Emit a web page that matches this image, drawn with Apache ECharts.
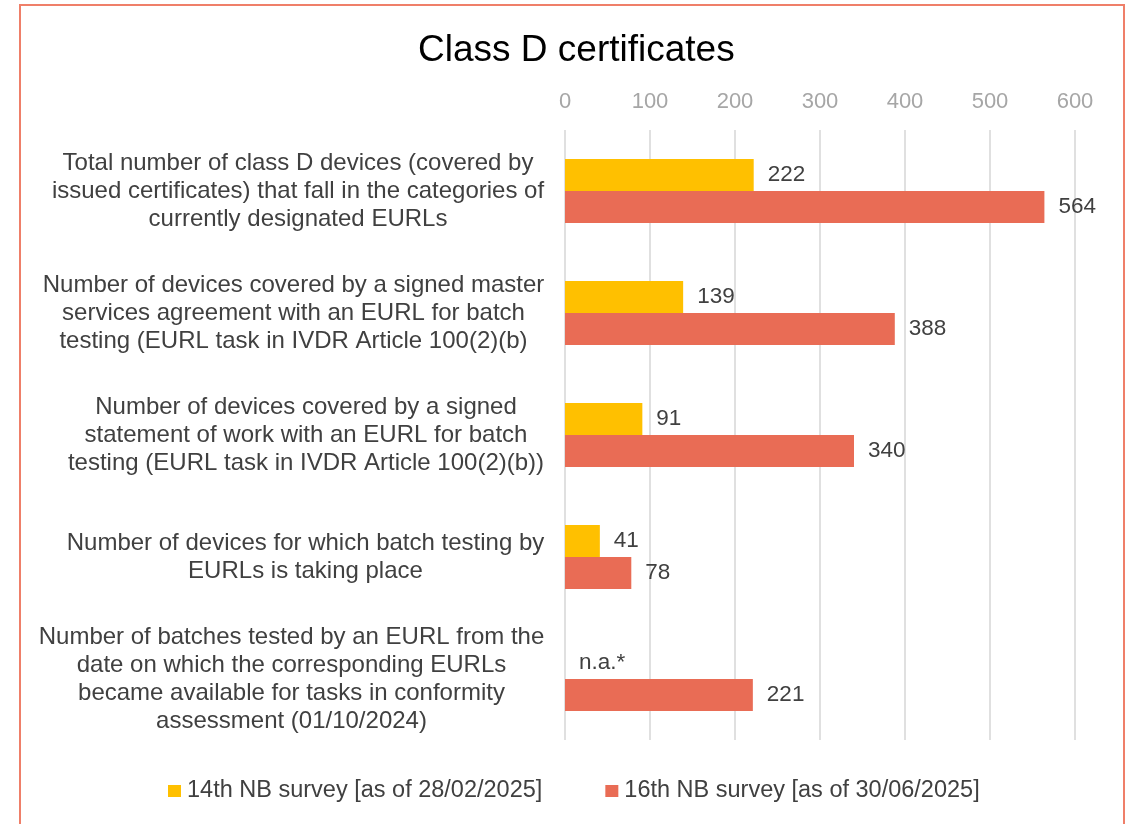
<!DOCTYPE html>
<html>
<head>
<meta charset="utf-8">
<script src="https://cdn.jsdelivr.net/npm/echarts@6/dist/echarts.min.js"></script>
<style>
  html, body { margin: 0; padding: 0; background: #fff; }
  #chart { width: 1130px; height: 824px; }
</style>
</head>
<body>
<div id="chart"></div>
<script>
const categories = [
  'Total number of class D devices (covered by\nissued certificates) that fall in the categories of\ncurrently designated EURLs',
  'Number of devices covered by a signed master\nservices agreement with an EURL for batch\ntesting (EURL task in IVDR Article 100(2)(b)',
  'Number of devices covered by a signed\nstatement of work with an EURL for batch\ntesting (EURL task in IVDR Article 100(2)(b))',
  'Number of devices for which batch testing by\nEURLs is taking place',
  'Number of batches tested by an EURL from the\ndate on which the corresponding EURLs\nbecame available for tasks in conformity\nassessment (01/10/2024)'
]
const survey14 = [222, 139, 91, 41, 0] // last one not available
const survey16 = [564, 388, 340, 78, 221]
const seriesNames = ['14th NB survey [as of 28/02/2025]', '16th NB survey [as of 30/06/2025]']
const xTicks = { min: 0, max: 600, interval: 100 }

const font = 'Liberation Sans, Arial, sans-serif'
const labelSize = 24

// each category label is a block right-aligned to the axis, lines centred inside it
const ctx = document.createElement('canvas').getContext('2d')
ctx.font = labelSize + 'px ' + font
const rich = {}
categories.forEach((c, i) => {
  const w = Math.max(...c.split('\n').map(l => ctx.measureText(l).width))
  rich['c' + i] = { width: Math.ceil(w) + 1, align: 'center', fontSize: labelSize, lineHeight: 28, color: '#404040', fontFamily: font }
})

const chart = echarts.init(document.getElementById('chart'))

chart.setOption({
  animation: false,
  textStyle: { fontFamily: font },
  title: {
    text: 'Class D certificates',
    left: 413,
    top: 27,
    textStyle: { color: '#000', fontSize: 37, fontWeight: 'normal', fontFamily: font }
  },
  graphic: [{
    type: 'rect',
    shape: { x: 20, y: 5, width: 1104, height: 840 },
    style: { fill: 'none', stroke: '#ef7f69', lineWidth: 2 }
  }],
  legend: {
    bottom: 16,
    left: 163,
    itemWidth: 13,
    itemHeight: 12,
    itemGap: 63,
    icon: 'rect',
    textStyle: { color: '#404040', fontSize: 23.5, fontFamily: font, padding: [0, 0, 0, 1] },
    data: seriesNames
  },
  grid: { left: 565, right: 55, top: 130, bottom: 84 },
  xAxis: {
    type: 'value',
    position: 'top',
    min: xTicks.min,
    max: xTicks.max,
    interval: xTicks.interval,
    axisLine: { show: false },
    axisTick: { show: false },
    axisLabel: { color: '#a6a6a6', fontSize: 22, margin: 17, fontFamily: font },
    splitLine: { lineStyle: { color: '#e0e0e0', width: 2 } }
  },
  yAxis: {
    type: 'category',
    inverse: true,
    data: categories,
    axisLine: { show: false },
    axisTick: { show: false },
    axisLabel: {
      color: '#404040', fontSize: labelSize, margin: 20, lineHeight: 28,
      align: 'right', fontFamily: font,
      formatter: (val, i) => val.split('\n').map(l => '{c' + i + '|' + l + '}').join('\n'),
      rich
    }
  },
  series: [{
    name: seriesNames[0],
    type: 'bar',
    data: survey14,
    barWidth: 32,
    barGap: '0%',
    itemStyle: { color: '#ffc000' },
    label: {
      show: true, position: 'right', distance: 14,
      color: '#404040', fontSize: 22.5, fontFamily: font,
      formatter: p => (p.value ? p.value : 'n.a.*')
    }
  }, {
    name: seriesNames[1],
    type: 'bar',
    data: survey16,
    barWidth: 32,
    itemStyle: { color: '#e96c55' },
    label: {
      show: true, position: 'right', distance: 14,
      color: '#404040', fontSize: 22.5, fontFamily: font
    }
  }]
})
</script>
</body>
</html>
